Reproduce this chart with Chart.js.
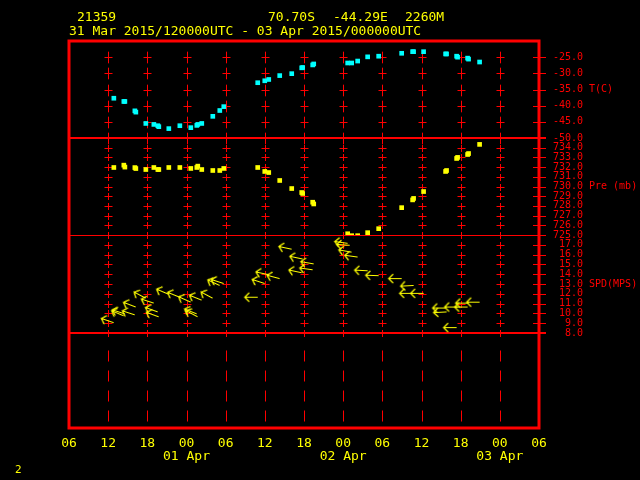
<!DOCTYPE html>
<html><head><meta charset="utf-8">
<script src="https://cdn.jsdelivr.net/npm/chart.js@4.4.1/dist/chart.umd.min.js"></script>
<style>html,body{margin:0;padding:0;background:#000;overflow:hidden}#wrap{width:640px;height:480px}</style>
</head><body><div id="wrap"><canvas id="c" width="640" height="480"></canvas></div>
<script>
// ---- data (time = hours since 31 Mar 2015 00 UTC) ----
const stationId = '21359';
const stationLat = '70.70S';
const stationLon = '-44.29E';
const stationElev = '2260M';
const periodText = '31 Mar 2015/120000UTC - 03 Apr 2015/000000UTC';

const obsHours = [12.87, 14.40, 14.56, 16.09, 16.24, 17.77, 19.00, 19.61, 19.76, 21.29, 22.98, 24.66, 25.58, 25.73, 26.34, 28.03, 29.10, 29.71, 34.91, 35.99, 36.60, 38.28, 40.12, 41.65, 41.80, 43.33, 43.49, 48.69, 49.30, 50.22, 51.75, 53.44, 56.96, 58.64, 58.79, 60.32, 63.69, 63.84, 65.38, 65.53, 67.06, 67.21, 68.90];
const tempC = [-37.7, -38.7, -38.7, -41.6, -42.0, -45.5, -45.8, -46.2, -46.5, -47.1, -46.2, -46.8, -46.1, -45.8, -45.5, -43.3, -41.5, -40.3, -32.9, -32.3, -31.9, -30.7, -30.1, -28.3, -28.2, -27.4, -27.1, -26.8, -26.8, -26.2, -24.9, -24.7, -23.8, -23.3, -23.3, -23.3, -24.0, -24.0, -24.7, -25.0, -25.3, -25.6, -26.5];
const presMb = [731.96, 732.2, 732.0, 731.95, 731.85, 731.75, 731.96, 731.75, 731.75, 731.96, 731.96, 731.86, 731.96, 732.1, 731.75, 731.65, 731.65, 731.86, 731.96, 731.55, 731.44, 730.62, 729.79, 729.38, 729.28, 728.38, 728.2, 725.13, 724.93, 724.93, 725.24, 725.65, 727.82, 728.62, 728.77, 729.48, 731.55, 731.65, 732.89, 733.0, 733.3, 733.4, 734.34];

const windHours = [12.87, 14.40, 14.56, 16.09, 16.24, 17.77, 19.00, 19.61, 19.76, 21.29, 22.98, 24.66, 25.58, 25.73, 26.34, 28.03, 29.10, 29.71, 34.91, 35.99, 36.60, 38.28, 40.12, 41.65, 41.80, 43.33, 43.49, 48.69, 49.00, 49.30, 50.22, 51.75, 53.44, 56.96, 58.64, 58.79, 60.32, 63.69, 63.84, 65.38, 65.53, 67.06, 67.21, 68.90];
const windSpd = [9.1, 9.8, 10.0, 9.9, 10.7, 11.6, 11.1, 10.2, 9.7, 12.0, 11.7, 11.2, 10.0, 9.7, 11.4, 11.6, 12.9, 13.1, 11.7, 13.1, 14.0, 13.6, 16.6, 14.2, 15.6, 14.5, 15.1, 17.2, 17.0, 16.3, 15.8, 14.4, 13.9, 13.6, 12.1, 12.9, 12.1, 10.6, 10.2, 8.6, 10.7, 10.7, 11.1, 11.2];
const windRot = [19, 23, 18, 18, 21, 28, 18, 20, 20, 23, 22, 24, 22, 28, 22, 28, 25, 18, 0, 18, 12, 15, 12, 12, 12, 8, 10, 8, 4, 10, 8, 3, 2, 0, 0, -3, 0, 0, -3, 0, 0, 0, 0, 0];

const timeTicks = [6, 12, 18, 24, 30, 36, 42, 48, 54, 60, 66, 72, 78];
const hourLabels = ['06', '12', '18', '00', '06', '12', '18', '00', '06', '12', '18', '00', '06'];
const dayTicks = [24, 48, 72];
const dayLabels = ['01 Apr', '02 Apr', '03 Apr'];
const axisNames = ['T(C)', 'Pre (mb)', 'SPD(MPS)'];
const cornerLabel = '2';

// ---- style ----
const RED = '#ff0000', YEL = '#ffff00', CYAN = '#00ffff';
const MONO = '"DejaVu Sans Mono", monospace';

// arrow glyph (tail at canvas centre, head pointing left)
const arrow = document.createElement('canvas');
arrow.width = 30; arrow.height = 14;
(function () {
  const g = arrow.getContext('2d');
  g.strokeStyle = YEL; g.lineWidth = 1.2;
  g.beginPath();
  g.moveTo(15, 7.5); g.lineTo(2, 7.5);
  g.moveTo(6.5, 3); g.lineTo(2, 7.5); g.lineTo(6.5, 12);
  g.stroke();
})();

const gridPlugin = {
  id: 'gridPlugin',
  beforeDatasetsDraw(chart) {
    const {ctx, chartArea: a, scales} = chart;
    const xs = scales.x;
    const seg = (x1, y1, x2, y2) => { ctx.beginPath(); ctx.moveTo(x1, y1); ctx.lineTo(x2, y2); ctx.stroke(); };
    ctx.save();
    ctx.strokeStyle = RED; ctx.lineWidth = 1;
    timeTicks.forEach(v => {
      if (v <= xs.min || v >= xs.max) return;
      const px = Math.round(xs.getPixelForValue(v)) + 0.5;
      ['yT', 'yP', 'yS'].forEach(id => {
        const s = scales[id];
        const vals = s.ticks.map(t => t.value).filter(t => t < s.max);
        const sp = Math.abs(s.getPixelForValue(vals[1]) - s.getPixelForValue(vals[0]));
        vals.forEach(t => {
          const py = Math.round(s.getPixelForValue(t)) + 0.5;
          seg(px, py - 0.36 * sp, px, py + 0.36 * sp);
          seg(px - 4, py, px + 4, py);
        });
      });
      const e = scales.yE;
      for (let k = 0; k < 4; k++) {
        const c = e.top + 23 + 20 * k;
        seg(px, c - 5.5, px, c + 5.5);
      }
    });
    // right-edge ticks
    ['yT', 'yP', 'yS'].forEach(id => {
      const s = scales[id];
      s.ticks.forEach(t => {
        if (t.value >= s.max) return;
        const py = Math.round(s.getPixelForValue(t.value)) + 0.5;
        seg(a.right - 6, py, a.right + 7, py);
      });
    });
    // panel separators
    ctx.lineWidth = 2;
    seg(a.left, Math.round(scales.yT.bottom), a.right + 7, Math.round(scales.yT.bottom));
    seg(a.left, Math.round(scales.yS.bottom), a.right + 7, Math.round(scales.yS.bottom));
    ctx.lineWidth = 1;
    seg(a.left, Math.round(scales.yP.bottom) + 0.5, a.right + 7, Math.round(scales.yP.bottom) + 0.5);
    ctx.restore();
  },
  afterDatasetsDraw(chart) {
    const {ctx, chartArea: a} = chart;
    ctx.save();
    ctx.strokeStyle = RED; ctx.lineWidth = 3;
    ctx.strokeRect(a.left, a.top, a.right - a.left, a.bottom - a.top);
    ctx.restore();
  },
  afterDraw(chart) {
    const {ctx, chartArea: a, scales} = chart;
    ctx.save();
    ctx.textBaseline = 'middle'; ctx.textAlign = 'left';
    ctx.fillStyle = YEL;
    ctx.font = '13px ' + MONO;
    ctx.fillText(stationId, 77, 18);
    ctx.fillText(stationLat, 268, 18);
    ctx.fillText(stationLon, 333, 18);
    ctx.fillText(stationElev, 405, 18);
    ctx.fillText(periodText, a.left, 31.5);
    ctx.font = '11px ' + MONO;
    ctx.fillText(cornerLabel, 15, 470);
    ctx.fillStyle = RED;
    ctx.font = '10px ' + MONO;
    ['yT', 'yP', 'yS'].forEach((id, i) => {
      const s = scales[id];
      ctx.fillText(axisNames[i], a.right + 50, (s.top + s.bottom) / 2);
    });
    ctx.restore();
  }
};

const yTickFont = {family: MONO, size: 10};
function yAxis(min, max, step, weight) {
  return {
    axis: 'y', type: 'linear', position: 'right', stack: 'panels', stackWeight: weight,
    min: min, max: max,
    grid: {display: false, drawTicks: false}, border: {display: false},
    ticks: {
      stepSize: step, color: RED, font: yTickFont, padding: 14, crossAlign: 'near',
      autoSkip: false, maxTicksLimit: 100,
      callback: v => (v >= max ? '' : Number(v).toFixed(1).padStart(5, ' '))
    },
    afterFit: s => { s.width = 101; }
  };
}

new Chart(document.getElementById('c'), {
  type: 'scatter',
  data: {
    datasets: [
      {
        label: 'T', yAxisID: 'yT',
        data: obsHours.map((h, i) => ({x: h, y: tempC[i]})),
        pointStyle: 'rect', pointRadius: 3.3, pointBorderWidth: 0,
        pointBackgroundColor: CYAN, showLine: false
      },
      {
        label: 'P', yAxisID: 'yP',
        data: obsHours.map((h, i) => ({x: h, y: presMb[i]})),
        pointStyle: 'rect', pointRadius: 3.3, pointBorderWidth: 0,
        pointBackgroundColor: YEL, showLine: false
      },
      {
        label: 'SPD', yAxisID: 'yS',
        data: windHours.map((h, i) => ({x: h, y: windSpd[i]})),
        pointStyle: arrow, pointRotation: c => windRot[c.dataIndex],
        pointRadius: 6, showLine: false
      }
    ]
  },
  options: {
    responsive: false, animation: false, devicePixelRatio: 1, events: [],
    layout: {padding: {left: 69, top: 41, right: 0, bottom: 0}},
    plugins: {legend: {display: false}, tooltip: {enabled: false}},
    scales: {
      x: {
        type: 'linear', position: 'bottom', min: 6, max: 78,
        grid: {display: false, drawTicks: false}, border: {display: false},
        afterBuildTicks: s => { s.ticks = timeTicks.map(v => ({value: v})); },
        ticks: {
          autoSkip: false, maxRotation: 0, minRotation: 0, color: YEL, padding: 9,
          font: {family: MONO, size: 13, lineHeight: '13px'},
          callback: v => {
            const i = timeTicks.indexOf(v);
            const d = dayTicks.indexOf(v);
            return d >= 0 ? [hourLabels[i], dayLabels[d]] : hourLabels[i];
          }
        },
        afterFit: s => { s.height = 52; }
      },
      yT: yAxis(-50, -20, 5, 97),
      yP: yAxis(725, 735, 1, 97),
      yS: yAxis(8, 18, 1, 98),
      yE: {
        axis: 'y', type: 'linear', position: 'right', stack: 'panels', stackWeight: 95,
        min: 0, max: 1,
        grid: {display: false, drawTicks: false}, border: {display: false},
        ticks: {display: false},
        afterFit: s => { s.width = 101; }
      }
    }
  },
  plugins: [gridPlugin]
});
</script>
</body></html>
